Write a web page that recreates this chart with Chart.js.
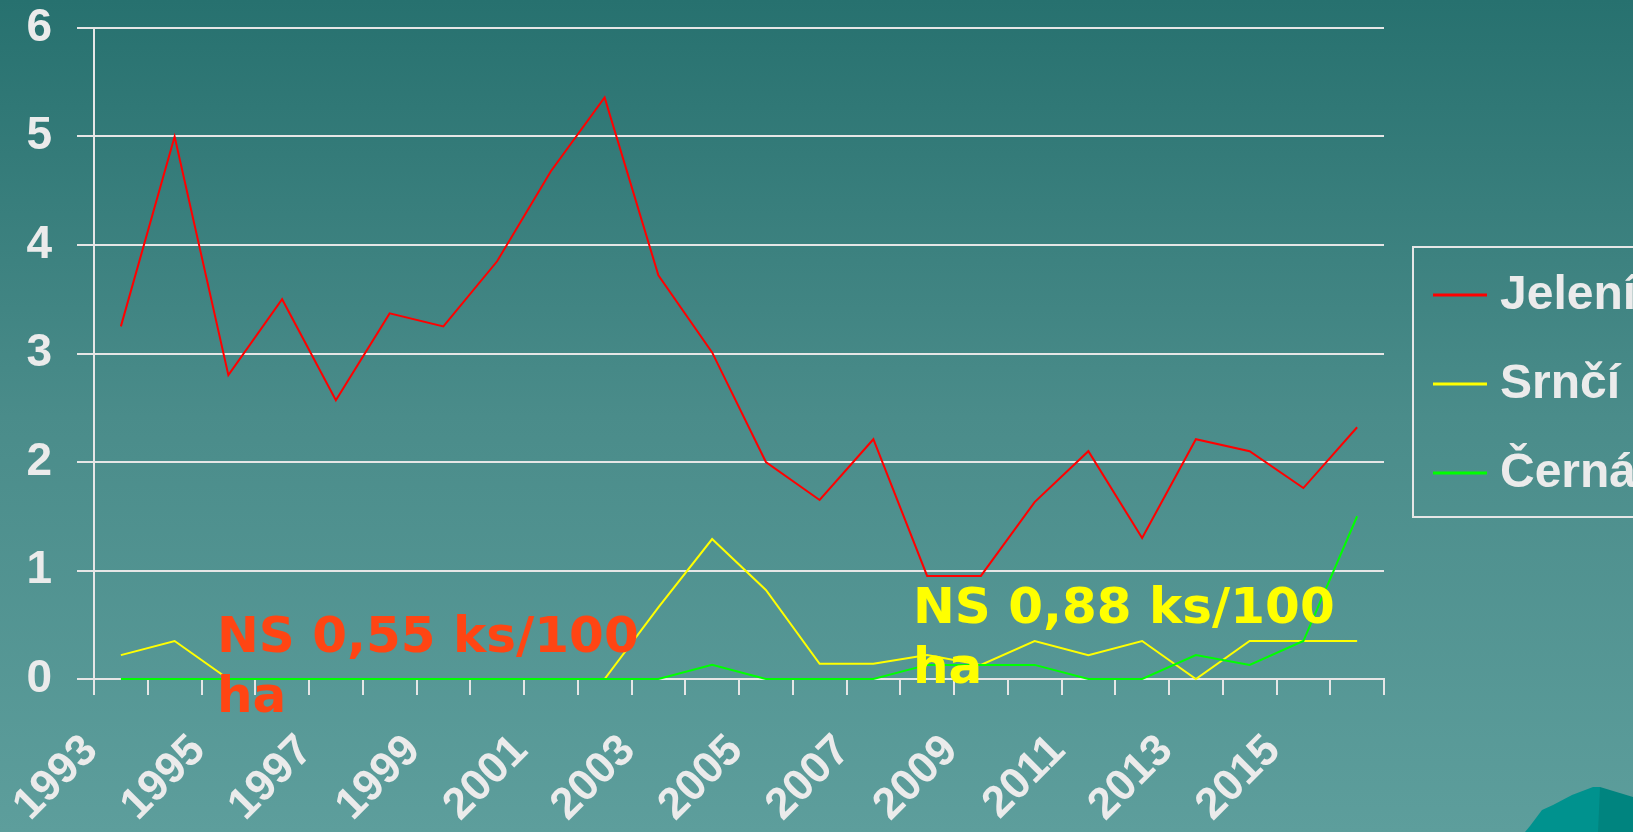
<!DOCTYPE html>
<html>
<head>
<meta charset="utf-8">
<script src="https://cdn.jsdelivr.net/npm/chart.js"></script>
<style>
  html, body {
    margin: 0;
    padding: 0;
    width: 1633px;
    height: 832px;
    overflow: hidden;
  }
  body {
    position: relative;
    background: linear-gradient(to bottom, #27716f 0%, #4a8c8a 50%, #5d9e9c 100%);
  }
  #chart {
    position: absolute;
    left: 0;
    top: 0;
  }
  .note {
    position: absolute;
    font-family: "DejaVu Sans", Verdana, sans-serif;
    font-weight: bold;
    font-size: 50px;
    line-height: 60px;
    white-space: nowrap;
  }
  #note1 { left: 217px; top: 605px; color: #ff4513; }
  #note2 { left: 913px; top: 576px; color: #ffff00; }
  .hill {
    position: absolute;
    left: 1520px;
    top: 780px;
    width: 113px;
    height: 52px;
  }
  #hill1 {
    background: #00928e;
    clip-path: polygon(5px 52px, 10px 46px, 22px 30px, 33px 25px, 52px 15px, 73px 7px, 80px 7px, 80px 52px);
  }
  #hill2 {
    background: #00847f;
    clip-path: polygon(80px 7px, 113px 17px, 113px 52px, 78px 52px);
  }
</style>
</head>
<body>
<canvas id="chart" width="1633" height="832"></canvas>
<div class="hill" id="hill1"></div>
<div class="hill" id="hill2"></div>
<div class="note" id="note1">NS 0,55 ks/100<br>ha</div>
<div class="note" id="note2">NS 0,88 ks/100<br>ha</div>
<script>
// Years on the x axis
const years = ['1993', '1994', '1995', '1996', '1997', '1998', '1999', '2000',
    '2001', '2002', '2003', '2004', '2005', '2006', '2007', '2008',
    '2009', '2010', '2011', '2012', '2013', '2014', '2015', '2016'];

// Values
const jeleni = [3.25, 5.0, 2.8, 3.5, 2.57, 3.37, 3.25, 3.85, 4.68, 5.36, 3.72, 3.01,
    2.0, 1.65, 2.21, 0.95, 0.95, 1.63, 2.1, 1.3, 2.21, 2.1, 1.76, 2.32];
const srnci = [0.22, 0.35, 0, 0, 0, 0, 0, 0, 0, 0, 0.66, 1.29,
    0.82, 0.14, 0.14, 0.22, 0.13, 0.35, 0.22, 0.35, 0, 0.35, 0.35, 0.35];
const cerna = [0, 0, 0, 0, 0, 0, 0, 0, 0, 0, 0, 0.13,
    0, 0, 0, 0.13, 0.13, 0.13, 0, 0, 0.22, 0.13, 0.35, 1.5];

const seriesNames = ['Jelení', 'Srnčí', 'Černá'];
const seriesColors = ['#ff0000', '#ffff00', '#00ff00'];
const yTicks = [0, 1, 2, 3, 4, 5, 6];

const textColor = '#ebebeb';
const gridColor = '#e6e6e6';

// Boxed legend on the right, partly cut off by the page edge
const boxLegend = {
    id: 'boxLegend',
    afterDraw(chart) {
        const ctx = chart.ctx;
        ctx.save();
        ctx.strokeStyle = gridColor;
        ctx.lineWidth = 2;
        ctx.strokeRect(1413, 247, 260, 270);
        ctx.font = 'bold 48px "Liberation Sans", Arial, sans-serif';
        ctx.textBaseline = 'middle';
        ctx.textAlign = 'left';
        chart.data.datasets.forEach((ds, i) => {
            const y = 295 + i * 89;
            ctx.strokeStyle = ds.borderColor;
            ctx.lineWidth = 3;
            ctx.beginPath();
            ctx.moveTo(1433, y);
            ctx.lineTo(1487, y);
            ctx.stroke();
            ctx.fillStyle = textColor;
            ctx.fillText(ds.label, 1500, y + 1);
        });
        ctx.restore();
    }
};

// later series drawn on top, like the original
const datasets = [jeleni, srnci, cerna].map((values, i) => ({
    label: seriesNames[i],
    data: values,
    order: 2 - i,
    clip: false,
    borderColor: seriesColors[i],
    backgroundColor: seriesColors[i],
    borderWidth: 2,
    pointRadius: 0,
    tension: 0,
    fill: false
}));

new Chart(document.getElementById('chart'), {
    type: 'line',
    data: {
        labels: years,
        datasets: datasets
    },
    options: {
        responsive: false,
        animation: false,
        devicePixelRatio: 1,
        layout: {
            padding: { top: 28, right: 249, left: 0, bottom: 0 }
        },
        plugins: {
            legend: { display: false },
            tooltip: { enabled: false }
        },
        scales: {
            x: {
                type: 'category',
                offset: true,
                afterFit: (scale) => {
                    scale.height = 153;
                    scale.paddingTop = 0;
                    scale.paddingBottom = 0;
                },
                grid: {
                    offset: true,
                    drawOnChartArea: false,
                    drawTicks: true,
                    tickLength: 16,
                    color: gridColor,
                    lineWidth: 2
                },
                border: { display: true, color: gridColor, width: 2 },
                ticks: {
                    autoSkip: false,
                    minRotation: 45,
                    maxRotation: 45,
                    padding: 30,
                    labelOffset: -30,
                    color: textColor,
                    font: { family: '"Liberation Sans", Arial, sans-serif', weight: 'bold', size: 44 },
                    callback: (value, index) => index % 2 === 0 ? years[index] : ''
                }
            },
            y: {
                min: yTicks[0],
                max: yTicks[yTicks.length - 1],
                afterFit: (scale) => {
                    scale.width = 94;
                    scale.paddingTop = 0;
                    scale.paddingBottom = 0;
                },
                afterBuildTicks: (scale) => { scale.ticks = yTicks.map(v => ({ value: v })); },
                grid: {
                    color: gridColor,
                    lineWidth: 2,
                    drawTicks: true,
                    tickLength: 17
                },
                border: { display: true, color: gridColor, width: 2 },
                ticks: {
                    padding: 25,
                    color: textColor,
                    font: { family: '"Liberation Sans", Arial, sans-serif', weight: 'bold', size: 46 }
                }
            }
        }
    },
    plugins: [boxLegend]
});
</script>
</body>
</html>
